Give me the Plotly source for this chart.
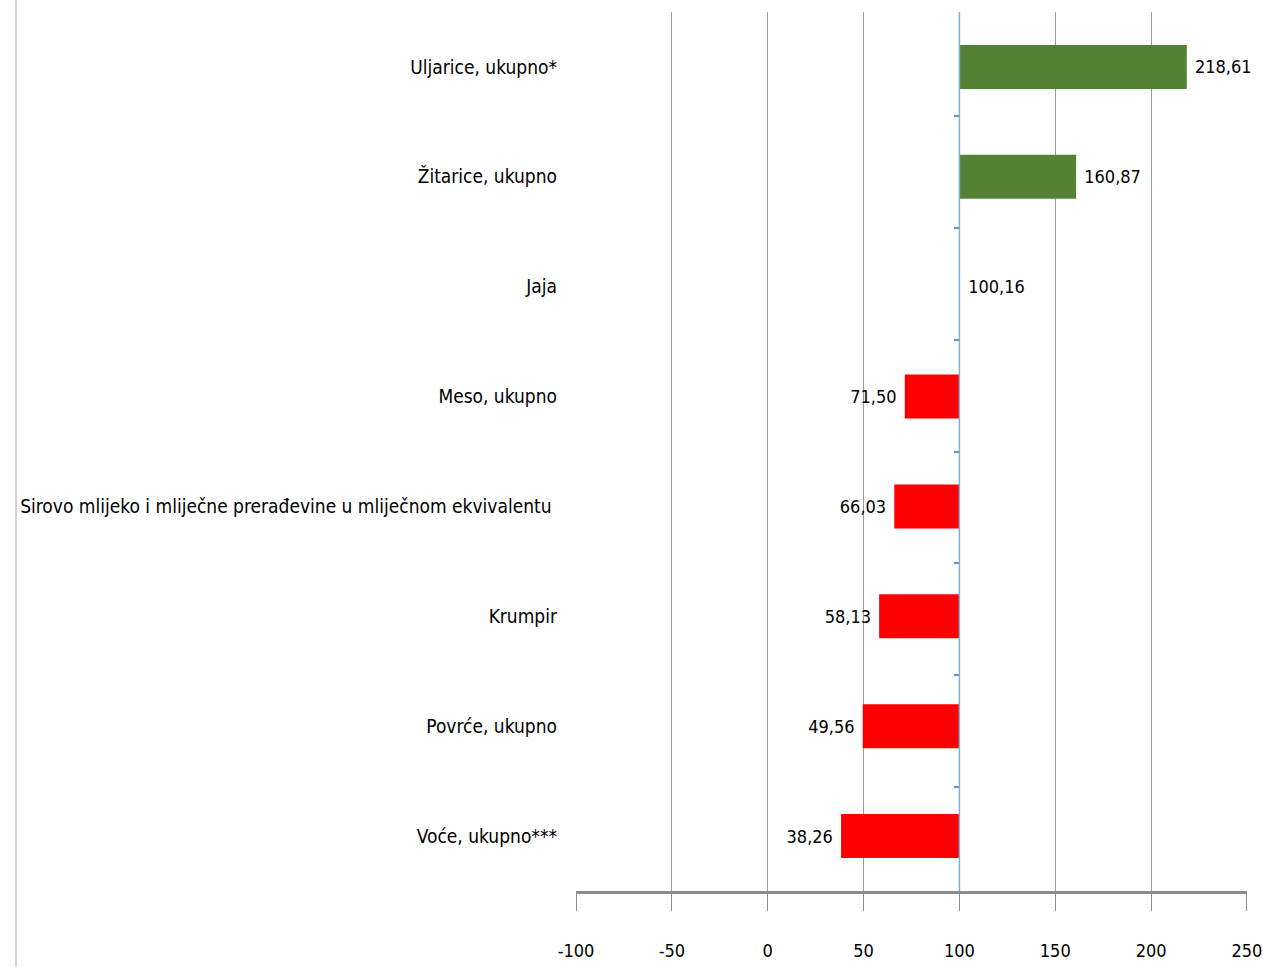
import plotly.graph_objects as go

categories = [
    "Uljarice, ukupno*",
    "Žitarice, ukupno",
    "Jaja",
    "Meso, ukupno",
    "Sirovo mlijeko i mliječne prerađevine u mliječnom ekvivalentu ",
    "Krumpir",
    "Povrće, ukupno",
    "Voće, ukupno***",
]
values = [218.61, 160.87, 100.16, 71.50, 66.03, 58.13, 49.56, 38.26]
base_value = 100
x_ticks = [-100, -50, 0, 50, 100, 150, 200, 250]

GREEN = "#548235"
RED = "#FF0000"
FONT = "Liberation Sans Narrow, DejaVu Sans Condensed, Arial Narrow, sans-serif"

colors = [GREEN if v >= base_value else RED for v in values]
labels = [
    (" " + f"{v:.2f}".replace(".", ",")) if v >= base_value
    else (f"{v:.2f}".replace(".", ",") + " ")
    for v in values
]
deltas = [v - base_value for v in values]

W, H = 1263, 967
ml, mr, mt, mb = 576, 16, 12, 76
xmin, xmax = -100, 250.02

fig = go.Figure()
fig.add_trace(go.Bar(
    y=categories, x=deltas, base=base_value, orientation="h",
    marker=dict(color=colors, line=dict(width=0)),
    text=labels, textposition="outside", cliponaxis=False,
    textfont=dict(family=FONT, size=18, color="#000000"),
    hoverinfo="skip", width=0.4,
))
# invisible trace to carry the category axis drawn at x=100
fig.add_trace(go.Scatter(
    y=categories, x=[base_value] * len(categories), mode="markers",
    yaxis="y2", marker=dict(opacity=0), showlegend=False,
    hoverinfo="skip",
))

pos100 = (base_value - xmin) / (xmax - xmin)

fig.update_layout(
    width=W, height=H,
    margin=dict(l=ml, r=mr, t=mt, b=mb, autoexpand=False),
    paper_bgcolor="white", plot_bgcolor="white",
    showlegend=False, barmode="overlay",
    xaxis=dict(
        range=[xmin, xmax], tickvals=x_ticks,
        ticktext=[str(t) for t in x_ticks],
        showgrid=True, gridcolor="#9a9a9a", gridwidth=1,
        zeroline=False, automargin=False,
        showline=True, linecolor="#8c8c8c", linewidth=3,
        ticks="outside", ticklen=17, tickcolor="#8c8c8c", tickwidth=1,
        tickfont=dict(family=FONT, size=18, color="#000000"),
        ticklabelstandoff=24, ticklabeloverflow="allow",
        fixedrange=True,
    ),
    yaxis=dict(
        type="category", categoryorder="array", categoryarray=categories,
        autorange="reversed", automargin=False,
        showgrid=False, zeroline=False, showline=False, ticks="",
        tickfont=dict(family=FONT, size=19, color="#000000"),
        ticklabelstandoff=18,
    ),
    yaxis2=dict(
        type="category", categoryorder="array", categoryarray=categories,
        autorange="reversed", overlaying="y", anchor="free",
        position=pos100, side="left", automargin=False,
        showgrid=False, zeroline=False, showticklabels=False,
        showline=False,
        ticks="outside", tickson="boundaries", ticklen=5,
        tickcolor="#5b9bd5", tickwidth=2,
    ),
    shapes=[
        dict(type="line", xref="paper", yref="paper",
             x0=(16 - ml) / (W - ml - mr), x1=(16 - ml) / (W - ml - mr),
             y0=-(mb) / (H - mt - mb), y1=1 + mt / (H - mt - mb),
             line=dict(color="#a6a6a6", width=1)),
        dict(type="line", xref="x", yref="paper",
             x0=base_value, x1=base_value, y0=0, y1=1,
             line=dict(color="#7fb0dc", width=1.5), layer="above"),
    ],
)

fig.write_html(
    "out.html",
    config={"displayModeBar": False},
    post_script="document.body.style.margin='0';document.body.style.overflow='hidden';",
)
